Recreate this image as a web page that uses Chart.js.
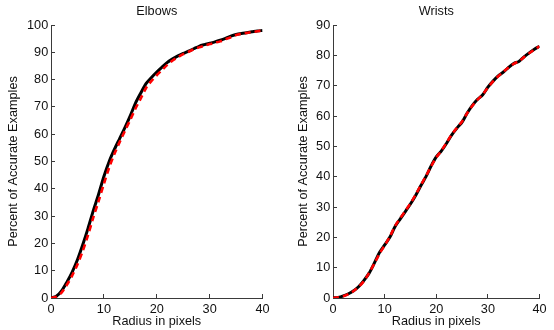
<!DOCTYPE html>
<html>
<head>
<meta charset="utf-8">
<script src="https://cdn.jsdelivr.net/npm/chart.js@4"></script>
<style>
  html, body { margin: 0; padding: 0; background: #fff; }
  #wrap { position: relative; width: 554px; height: 330px; overflow: hidden; }
  .pane { position: absolute; top: 0; width: 277px; height: 330px; }
</style>
</head>
<body>
<div id="wrap">
  <div class="pane" style="left:0"><canvas id="c1" width="277" height="330"></canvas></div>
  <div class="pane" style="left:277px"><canvas id="c2" width="277" height="330"></canvas></div>
</div>
<script>
const radius = [0,1,2,3,4,5,6,7,8,9,10,11,12,13,14,15,16,17,18,19,20,21,22,23,24,25,26,27,28,29,30,31,32,33,34,35,36,37,38,39,40];

const elbowsSolid = [0,0.6,2.6,5.8,9.5,14,19.5,25.5,32,38,44.5,50,54.5,58.5,62.5,66.8,71.5,75.2,78.6,80.8,82.8,84.6,86.3,87.6,88.7,89.6,90.4,91.3,92.2,92.8,93.3,93.8,94.4,95.1,95.9,96.5,96.9,97.2,97.5,97.8,98];
const elbowsDashed = [0,0.5,2,4.8,8.2,12.3,17.2,23,29.5,35.5,41.8,47.8,52.8,57.2,61.3,65.3,69.5,73.2,77,79.5,81.6,83.5,85.4,87,88.2,89.3,90.2,91.1,91.8,92.4,93,93.5,94,94.8,95.5,96.3,96.8,97.1,97.4,97.7,98];

const wristsSolid = [0,0.2,0.7,1.4,2.4,3.8,5.8,8.2,11.5,15,17.5,20,23.5,26,28.5,31,33.8,37,40,43.5,46.5,48.5,51,53.8,56,58,61,63.5,65.5,67,69.5,71.5,73.2,74.5,76,77.3,78,79.5,80.8,82,83];
const wristsDashed = [0,0.2,0.6,1.3,2.3,3.7,5.6,8.3,11.3,14.6,17.3,20.2,23.7,26.3,28.7,31.2,34,37.2,40.2,43.4,46.3,48.6,51.2,53.9,56.1,58.2,61,63.4,65.4,67.1,69.4,71.4,73.1,74.6,76,77.2,78.1,79.4,80.7,81.9,83];

const xTicks = [0,10,20,30,40];
const elbowsYTicks = [0,10,20,30,40,50,60,70,80,90,100];
const wristsYTicks = [0,10,20,30,40,50,60,70,80,90];

const FONT = '"Liberation Sans", Arial, Helvetica, sans-serif';
const FS = 12.7;
const TXT = '#111';
const AX = '#3a3a3a';

function pts(xs, ys) { return xs.map((x, i) => ({ x: x, y: ys[i] })); }

function makeChart(id, title, solid, dashed, yTicks, yAxisWidth, yTitlePad, rightPad) {
  const yMax = yTicks[yTicks.length - 1];
  return new Chart(document.getElementById(id), {
    type: 'line',
    data: {
      datasets: [
        {
          data: pts(radius, dashed),
          borderColor: '#ff0000',
          borderWidth: 2.6,
          borderDash: [6, 4],
          pointRadius: 0,
          tension: 0.3,
          order: 0
        },
        {
          data: pts(radius, solid),
          borderColor: '#000000',
          borderWidth: 3,
          pointRadius: 0,
          tension: 0.3,
          order: 1
        }
      ]
    },
    options: {
      responsive: false,
      animation: false,
      layout: { padding: { left: 0, right: rightPad, top: 0, bottom: 0 } },
      plugins: {
        legend: { display: false },
        tooltip: { enabled: false },
        title: {
          display: true,
          text: title,
          fullSize: false,
          color: TXT,
          font: { family: FONT, size: FS, weight: 'normal', lineHeight: 1.2 },
          padding: { top: 4, bottom: 25 - 4 - FS * 1.2 }
        }
      },
      scales: {
        x: {
          type: 'linear',
          min: 0,
          max: 40,
          afterBuildTicks: (s) => { s.ticks = xTicks.map(v => ({ value: v })); },
          afterFit: (s) => { s.height = 32; },
          border: { display: true, color: AX, width: 1 },
          grid: { drawOnChartArea: false, drawTicks: true, tickLength: -4, color: AX, lineWidth: 1 },
          ticks: { color: TXT, font: { family: FONT, size: FS }, padding: 7.4, maxRotation: 0 },
          title: {
            display: true,
            text: 'Radius in pixels',
            color: TXT,
            font: { family: FONT, size: FS, lineHeight: 1.2 },
            padding: { top: 0, bottom: 0.5 }
          }
        },
        y: {
          type: 'linear',
          min: 0,
          max: yMax,
          afterBuildTicks: (s) => { s.ticks = yTicks.map(v => ({ value: v })); },
          afterFit: (s) => { s.width = yAxisWidth; },
          border: { display: true, color: AX, width: 1 },
          grid: { drawOnChartArea: false, drawTicks: true, tickLength: -4, color: AX, lineWidth: 1 },
          ticks: { color: TXT, font: { family: FONT, size: FS }, padding: 6.8 },
          title: {
            display: true,
            text: 'Percent of Accurate Examples',
            color: TXT,
            font: { family: FONT, size: FS, lineHeight: 1.2 },
            padding: { top: yTitlePad, bottom: 0 }
          }
        }
      }
    }
  });
}

makeChart('c1', 'Elbows', elbowsSolid, elbowsDashed, elbowsYTicks, 51, 5.4, 13);
makeChart('c2', 'Wrists', wristsSolid, wristsDashed, wristsYTicks, 56, 19.1, 8);
</script>
</body>
</html>
